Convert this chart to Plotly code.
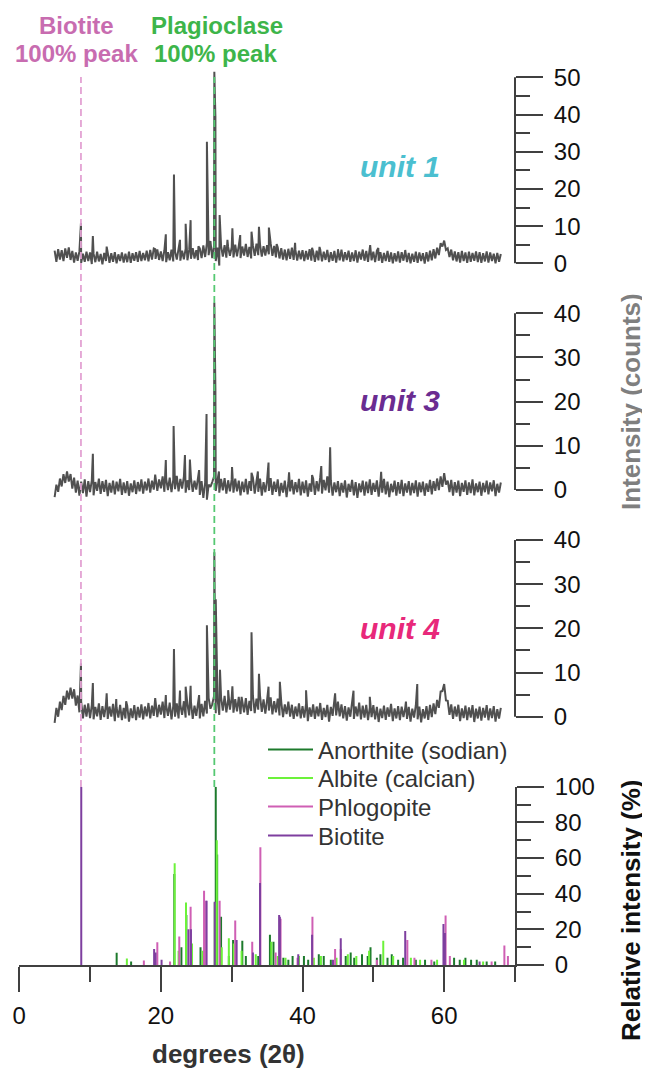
import plotly.graph_objects as go

WIN_W, WIN_H = 650, 1071
OFF = 8                      # page body margin of the html page
W, H = WIN_W - OFF, WIN_H - OFF
FONT = "Liberation Sans, Arial, sans-serif"

# ---------------- data ----------------
scan_start = 5.0   # degrees 2theta
scan_step = 0.25

unit1_base = [
    3.4, 0.4, 3.8, 1.0, 3.5, 0.6, 4.0, 1.5, 4.3, 0.9, 3.3, 0.2, 2.9, 0.7, 3.2, 0.1, 2.6, 0.4, 3.1, 0.6,
    2.9, -0.2, 2.6, 0.3, 3.1, 0.5, 2.5, -0.3, 2.8, 0.6, 3.0, 0.1, 2.7, 0.4, 3.0, 0.0, 2.4, 0.6, 2.9, 0.2,
    2.6, 0.3, 3.1, 0.1, 2.7, 0.7, 3.0, 0.4, 3.3, 0.6, 2.8, 0.8, 3.4, 0.5, 3.6, 1.0, 4.0, 1.2, 3.7, 0.9,
    3.2, 0.6, 3.5, 0.3, 3.0, 0.8, 3.7, 0.5, 3.2, 1.0, 3.8, 0.7, 3.4, 1.1, 3.9, 0.8, 3.6, 1.2, 4.1, 1.3,
    3.5, 0.9, 4.0, 1.4, 4.8, 1.7, 5.4, 2.2, 6.0, 1.4, 4.6, 0.6, 4.2, -0.6, 4.7, 1.8, 4.9, 1.5, 4.4, 2.0,
    4.3, 1.6, 5.0, 1.9, 4.7, 1.4, 4.5, 2.1, 5.2, 1.7, 4.4, 1.3, 4.8, 2.0, 5.3, 2.2, 5.1, 1.8, 4.6, 2.1,
    4.9, 2.4, 5.4, 2.0, 4.7, 1.6, 4.3, 1.3, 4.1, 1.0, 3.7, 0.8, 3.9, 1.2, 4.2, 0.9, 3.6, 0.7, 3.4, 1.1,
    3.5, 0.6, 3.3, 1.0, 3.8, 0.7, 3.2, 0.4, 3.4, 0.8, 3.7, 0.5, 3.1, 0.9, 3.6, 0.3, 3.0, 0.7, 3.3, 0.2,
    3.2, 0.8, 3.7, 0.5, 3.0, 0.9, 3.4, 0.4, 2.9, 0.6, 3.5, 0.2, 3.1, 1.0, 3.7, 0.7, 3.3, 0.4, 3.6, 0.8,
    3.1, 0.3, 3.4, 0.7, 3.0, 0.1, 2.8, 0.6, 3.3, 0.4, 2.9, 0.0, 2.7, 0.5, 3.2, 0.2, 3.0, 0.7, 3.4, 0.3,
    2.8, 0.0, 2.6, 0.4, 3.1, 0.1, 2.9, 0.6, 2.7, -0.1, 3.0, 0.5, 3.4, 0.8, 3.8, 1.3, 4.2, 2.2, 5.4, 4.5,
    6.1, 3.6, 4.0, 1.7, 3.7, 0.8, 3.2, 0.5, 3.0, 0.2, 3.3, 0.6, 2.9, 0.1, 3.1, 0.4, 2.8, 0.7, 3.2, 0.3,
    3.0, 0.1, 2.7, 0.5, 3.2, 0.2, 2.9, 0.6, 2.6, 0.0, 2.8, 0.4, 2.5,
]
unit1_peak_pos = [8.72, 10.4, 12.35, 19.2, 20.7, 21.85, 22.7, 23.5, 24.2, 25.3, 26.5, 27.55, 27.7,
                  28.3, 29.4, 30.1, 31.2, 32.8, 33.85, 35.25, 36.35, 38.95, 41.35, 42.4, 45.0,
                  49.55, 50.7, 54.5]
unit1_peak_int = [10.8, 7.3, 4.5, 3.8, 7.8, 23.9, 6.3, 10.6, 11.6, 4.6, 32.7, 51.5, 39.4,
                  13.0, 6.3, 9.4, 7.6, 8.5, 9.8, 9.6, 5.2, 5.5, 4.2, 4.4, 3.8,
                  4.9, 4.1, 3.6]

unit3_base = [
    -1.6, 1.2, -0.4, 2.6, 0.8, 3.6, 1.6, 4.2, 1.9, 3.6, 0.3, 2.8, -0.6, 2.1, -1.3, 1.9, -0.7, 2.4, -1.5, 2.0,
    -0.5, 2.2, -1.2, 1.8, -0.2, 2.6, -0.9, 2.0, -0.4, 2.3, -1.4, 1.6, -0.6, 2.1, -1.0, 1.9, -0.3, 2.5, -1.1, 1.7,
    -0.7, 2.0, -1.3, 1.5, -0.5, 2.2, -0.9, 1.8, -0.3, 2.4, -0.8, 1.9, -0.1, 2.6, -0.6, 2.1, 0.1, 3.0, -0.2, 2.4,
    0.4, 3.1, -0.4, 2.5, 0.0, 2.8, -0.5, 2.3, 0.2, 3.2, -0.3, 2.5, 0.3, 3.0, -0.6, 2.2, 0.0, 2.7, -0.4, 2.1,
    0.1, 2.8, -1.1, 2.0, -1.8, 1.6, -2.2, 1.2, 0.7, 1.8, 3.0, -0.2, 2.9, -0.6, 2.5, -0.1, 2.7, -0.8, 2.2, -0.3,
    2.4, -0.6, 2.6, -0.3, 2.1, -1.2, 1.9, -0.5, 2.5, -1.0, 2.0, -0.2, 2.8, -0.8, 2.3, -0.4, 2.6, -1.3, 1.8, -0.5,
    2.2, -0.2, 2.7, -1.1, 1.9, -0.4, 2.4, -1.4, 1.6, -0.6, 2.1, -1.6, 1.7, -0.3, 2.3, -1.0, 1.8, -0.5, 2.5, -1.2,
    1.9, -0.7, 2.2, -1.5, 1.5, -0.4, 2.6, -1.1, 2.0, -0.3, 2.9, -0.8, 2.3, -0.1, 3.1, -0.6, 2.1, -1.3, 1.7, -0.5,
    2.0, -1.4, 1.6, -0.6, 2.2, -1.7, 1.4, -0.4, 2.3, -1.2, 1.8, -1.8, 1.5, -0.5, 2.1, -1.3, 1.9, -0.7, 2.4, -1.1,
    1.6, -0.4, 2.2, -1.5, 1.7, -0.6, 2.5, -1.0, 1.9, -1.6, 1.4, -0.5, 2.1, -1.3, 1.8, -0.8, 2.3, -1.4, 1.5, -0.6,
    2.0, -1.2, 1.6, -0.7, 2.2, -1.5, 1.7, -0.5, 1.9, -1.3, 1.5, -0.4, 2.3, -1.0, 2.0, -0.2, 2.6, 0.0, 3.1, 0.7,
    3.8, 1.2, 2.1, -0.5, 2.3, -1.3, 1.8, -0.6, 2.1, -1.4, 1.6, -0.4, 2.2, -1.1, 1.7, -0.7, 2.4, -1.2, 1.5, -0.5,
    1.9, -1.3, 1.6, -0.5, 2.1, -1.0, 1.7, -0.3, 2.2, -1.4, 1.4, -0.6, 1.7,
]
unit3_peak_pos = [10.4, 19.2, 20.7, 21.8, 23.4, 24.1, 25.4, 26.45, 27.55, 27.7, 28.2, 30.05, 32.8,
                  33.7, 35.2, 38.1, 41.35, 42.65, 43.9, 51.1]
unit3_peak_int = [8.2, 3.5, 6.8, 14.5, 7.9, 6.9, 4.5, 17.2, 42.4, 23.0, 4.2, 5.2, 3.9,
                  4.2, 6.2, 4.0, 3.4, 5.4, 9.7, 4.1]

unit4_base = [
    -1.4, 2.0, 0.0, 3.4, 1.5, 4.7, 2.7, 5.9, 3.9, 6.6, 4.1, 6.2, 2.5, 4.8, 1.0, 3.4, -0.4, 2.7, 0.0, 3.0,
    -0.3, 2.6, -0.6, 2.2, 0.1, 3.0, -0.7, 2.4, -0.1, 2.8, -0.5, 2.3, 0.0, 2.9, -1.0, 2.1, -0.2, 2.7, -0.8, 2.0,
    -0.4, 2.5, -1.1, 1.9, -0.3, 2.6, -0.8, 2.2, -0.2, 2.8, -0.6, 2.3, 0.1, 3.1, -0.4, 2.5, 0.2, 3.3, -0.1, 2.7,
    0.5, 3.4, -0.3, 2.6, 0.2, 3.2, -0.6, 2.4, 0.0, 3.0, -0.4, 2.7, 0.4, 3.5, -0.2, 2.8, 0.3, 3.3, -0.5, 2.5,
    0.2, 3.4, -0.4, 2.9, 0.1, 3.6, 0.7, 4.2, 1.8, 2.8, 4.6, 0.8, 4.0, 0.4, 4.4, 1.4, 4.7, 1.0, 3.9, 1.6,
    4.3, 0.9, 4.0, 1.2, 4.5, 0.6, 3.7, 1.0, 4.2, 0.4, 3.6, 1.3, 4.7, 0.8, 4.1, 1.6, 4.8, 1.1, 3.9, 0.7,
    3.8, 1.4, 4.4, 0.5, 3.5, 1.0, 4.1, 0.3, 3.3, -0.1, 2.8, 0.6, 3.4, 0.0, 2.7, -0.5, 2.3, 0.1, 3.0, -0.4,
    2.4, -0.2, 2.9, -1.0, 2.1, 0.0, 2.8, -0.5, 2.3, 0.1, 3.1, -0.7, 2.0, -0.1, 2.7, -1.1, 2.2, 0.2, 3.2, 0.3,
    3.4, 0.1, 2.8, -0.4, 2.4, -0.9, 2.1, 0.0, 3.0, -0.5, 2.3, 0.1, 3.2, -0.6, 2.5, -0.2, 2.7, -0.8, 2.1, -0.1,
    2.6, -0.6, 2.2, -1.2, 1.8, -0.3, 2.5, -0.7, 2.1, 0.0, 2.9, -1.0, 1.9, -0.4, 2.4, -0.8, 2.3, -0.1, 2.0, -0.5,
    2.2, -1.1, 1.8, -0.2, 2.6, -0.6, 2.3, -1.3, 1.7, -0.4, 2.4, -0.7, 2.7, -0.1, 3.0, 0.6, 3.8, 2.0, 5.7, 5.8,
    7.4, 3.7, 3.6, 0.4, 2.8, -0.5, 2.3, 0.0, 2.7, -1.0, 1.9, -0.3, 2.5, -0.8, 2.1, -0.2, 2.6, -1.2, 1.8, -0.4,
    2.3, -0.9, 2.0, -0.2, 2.6, -0.8, 1.9, -0.3, 2.4, -1.1, 1.7, -0.4, 2.0,
]
unit4_peak_pos = [8.72, 10.4, 12.35, 13.7, 15.1, 19.2, 20.7, 21.85, 22.7, 23.5, 24.2, 25.4, 26.5,
                  27.55, 27.75, 28.35, 29.5, 30.1, 31.4, 32.8, 33.85, 35.2, 36.8, 40.5, 44.6,
                  47.2, 49.5, 54.6, 56.2]
unit4_peak_int = [12.1, 7.6, 5.3, 4.0, 3.5, 4.2, 4.9, 15.3, 5.9, 6.8, 7.0, 4.9, 20.7,
                  37.2, 26.6, 10.6, 6.0, 6.9, 4.5, 19.1, 9.7, 6.8, 7.9, 6.0, 5.3,
                  5.9, 4.5, 3.4, 7.4]

# reference patterns: (2theta, relative intensity %)
anorthite_pos = [13.76, 15.8, 21.9, 22.9, 23.6, 24.3, 25.6, 26.0, 27.75, 27.95, 28.5, 29.6, 30.2,
                 31.5, 32.0, 33.75, 35.4, 35.9, 37.3, 38.0, 38.6, 40.2, 40.8, 42.3, 43.0, 44.0,
                 46.1, 46.8, 47.3, 48.4, 49.2, 49.6, 50.5, 51.0, 52.0, 52.6, 53.5, 54.2, 56.0,
                 57.3, 58.6, 61.4, 62.2, 63.0, 63.8, 64.6, 66.0, 67.2]
anorthite_int = [6.9, 2, 51, 10, 28, 8, 10, 5, 100, 62, 27, 5, 14,
                 13.6, 5, 5, 17, 13, 4, 3, 5, 5, 3, 6, 5, 3,
                 5, 7, 4, 6, 5, 10, 4, 6, 4, 6, 3, 4, 3,
                 3, 2, 4, 3, 4, 3, 3, 2, 2]
albite_pos = [15.2, 21.95, 22.5, 23.55, 24.4, 25.9, 27.6, 27.9, 28.6, 29.6, 30.3, 31.4, 33.4,
              35.6, 36.5, 37.6, 39.5, 41.6, 42.6, 44.8, 46.4, 47.6, 49.4, 51.4, 52.8, 55.3,
              56.6, 59.0, 62.8, 65.5]
albite_int = [3.7, 57, 8, 35, 12, 8, 35, 70, 10, 15, 12, 8, 6,
              13, 5, 4, 5, 4, 5, 4, 6, 5, 8, 13.6, 5, 4,
              3, 3, 3, 2]
phlogopite_pos = [17.6, 19.5, 21.3, 22.6, 24.2, 26.1, 26.4, 28.3, 30.5, 32.9, 34.05, 36.2, 36.9,
                  39.3, 41.4, 44.6, 45.4, 50.5, 54.8, 55.8, 58.2, 60.2, 60.8, 66.7, 68.5, 69.0]
phlogopite_int = [2.5, 12.7, 2, 16, 32.7, 41.7, 36, 36, 25, 13, 66, 7, 26,
                  4, 27, 9, 9, 3, 14, 4, 3, 27.7, 5, 2, 11, 5]
biotite_pos = [8.76, 19.05, 19.25, 20.1, 23.9, 24.25, 26.45, 27.6, 30.7, 33.0, 34.0, 36.7, 36.8,
               39.4, 41.35, 44.3, 45.4, 54.5, 59.9, 60.1, 65.0]
biotite_int = [100, 9, 7, 3, 20, 20, 36, 35.5, 14, 7, 46, 28, 27,
               6, 17, 3, 15, 19, 23, 18, 2]

biotite_peak = 8.72
plagioclase_peak = 27.55

x_ticks = [0, 20, 40, 60]

# ---------------- helpers ----------------
def pattern(base, ppos, pint):
    xs = [scan_start + i * scan_step for i in range(len(base))]
    pts = sorted(list(zip(xs, base)) + list(zip(ppos, pint)))
    return [p[0] for p in pts], [p[1] for p in pts]


def sticks(pos, inten):
    xs, ys = [], []
    for p, v in zip(pos, inten):
        xs += [p, p, None]
        ys += [0, v, None]
    return xs, ys


def py(px):  # window pixel row -> paper y
    return 1 - (px - OFF) / H


def px_x(px):  # window pixel column -> paper x
    return (px - OFF) / W


# panel geometry in window pixels: (row of zero, pixels per unit, range lo, range hi, top tick)
panels = [
    (263.3, 3.72, -3, 52.5, 50),
    (490.0, 4.4175, -3, 43.5, 40),
    (716.7, 4.4175, -3, 40.5, 40),
    (965.0, 1.783, 0, 100, 100),
]


def domain(p):
    zero, ppu, lo, hi, _ = p
    return [py(zero - lo * ppu), py(zero - hi * ppu)]


X0_PX, X1_PX = 19.2, 515.0
AX_COL = "#404040"
TRACE_COL = "#505050"

fig = go.Figure()

for i, (base, pp, pi) in enumerate([(unit1_base, unit1_peak_pos, unit1_peak_int),
                                     (unit3_base, unit3_peak_pos, unit3_peak_int),
                                     (unit4_base, unit4_peak_pos, unit4_peak_int)]):
    xs, ys = pattern(base, pp, pi)
    fig.add_trace(go.Scatter(x=xs, y=ys, mode="lines", xaxis="x",
                             yaxis="y" if i == 0 else f"y{i+1}",
                             line=dict(color=TRACE_COL, width=2.0), showlegend=False,
                             hoverinfo="skip"))

ref = [
    ("Anorthite (sodian)", anorthite_pos, anorthite_int, "#1d7a2c", "legend"),
    ("Albite (calcian)", albite_pos, albite_int, "#6cf23a", "legend2"),
    ("Phlogopite", phlogopite_pos, phlogopite_int, "#cf5fb4", "legend3"),
    ("Biotite", biotite_pos, biotite_int, "#7e3f9f", "legend4"),
]
for name, pos, inten, col, lg in ref:
    xs, ys = sticks(pos, inten)
    fig.add_trace(go.Scatter(x=xs, y=ys, mode="lines", name=name, xaxis="x", yaxis="y4",
                             line=dict(color=col, width=2.0), legend=lg, hoverinfo="skip"))

layout = dict(
    template="none",
    width=W, height=H, margin=dict(l=0, r=0, t=0, b=0, pad=0, autoexpand=False),
    paper_bgcolor="white", plot_bgcolor="rgba(0,0,0,0)",
    font=dict(family=FONT, size=24, color="#111111"),
    xaxis=dict(domain=[px_x(X0_PX), px_x(X1_PX)], range=[0, 70], anchor="y4", automargin=False,
               showline=True, linecolor=AX_COL, linewidth=2, showgrid=False, zeroline=False,
               ticks="outside", tickvals=x_ticks, ticklen=25, tickwidth=2, tickcolor=AX_COL,
               tickfont=dict(size=24, color="#111111"), ticklabelstandoff=3,
               minor=dict(ticks="outside", tick0=0, dtick=10, ticklen=15, tickwidth=2,
                          tickcolor=AX_COL, showgrid=False)),
)

shapes = []
for i, p in enumerate(panels):
    key = "yaxis" if i == 0 else f"yaxis{i+1}"
    major = 20 if i == 3 else 10
    layout[key] = dict(domain=domain(p), range=[p[2], p[3]], anchor="x", side="right",
                       automargin=False,
                       showline=(i == 3), linecolor=AX_COL, linewidth=2,
                       showgrid=False, zeroline=False, ticks="outside", tick0=0, dtick=major,
                       ticklen=27, tickwidth=2, tickcolor=AX_COL,
                       tickfont=dict(size=24, color="#111111"), ticklabelstandoff=6,
                       minor=dict(ticks="outside", tick0=0, dtick=major / 2, ticklen=14,
                                  tickwidth=2, tickcolor=AX_COL, showgrid=False))
    if i < 3:
        zero, ppu, lo, hi, top = p
        shapes.append(dict(type="line", xref="paper", yref="paper",
                           x0=px_x(X1_PX), x1=px_x(X1_PX),
                           y0=py(zero), y1=py(zero - top * ppu),
                           line=dict(color=AX_COL, width=2)))

# dashed guide lines
shapes.append(dict(type="line", xref="x", yref="paper", x0=biotite_peak, x1=biotite_peak,
                   y0=py(787), y1=py(77), line=dict(color="#e3a2d3", width=1.8, dash="7px,4px")))
shapes.append(dict(type="line", xref="x", yref="paper", x0=plagioclase_peak, x1=plagioclase_peak,
                   y0=py(787), y1=py(77), line=dict(color="#55c872", width=1.8, dash="7px,4px")))
layout["shapes"] = shapes

# legends
leg_rows = [750, 778.5, 807, 836]
for lg, row in zip(["legend", "legend2", "legend3", "legend4"], leg_rows):
    layout[lg] = dict(x=px_x(263), y=py(row), xanchor="left", yanchor="middle",
                      bgcolor="rgba(0,0,0,0)", borderwidth=0, itemwidth=45,
                      font=dict(family=FONT, size=24, color="#333333"))


def ann(text, xpx, ypx, size, color, bold=False, italic=False, angle=0):
    return dict(text=text, x=px_x(xpx), y=py(ypx), xref="paper", yref="paper",
                xanchor="center", yanchor="middle", showarrow=False, textangle=angle,
                font=dict(family=FONT, size=size, color=color,
                          weight="bold" if bold else "normal",
                          style="italic" if italic else "normal"))


layout["annotations"] = [
    ann("Biotite", 76, 26, 24, "#c86cb0", bold=True),
    ann("100% peak", 76, 53, 24, "#c86cb0", bold=True),
    ann("Plagioclase", 217, 26, 24, "#3db54a", bold=True),
    ann("100% peak", 215, 53, 24, "#3db54a", bold=True),
    ann("unit 1", 400, 167, 30, "#4bbfd0", bold=True, italic=True),
    ann("unit 3", 400, 400, 30, "#6a2c91", bold=True, italic=True),
    ann("unit 4", 400, 628, 30, "#e8287a", bold=True, italic=True),
    ann("Intensity (counts)", 631, 402, 26, "#7f7f7f", bold=True, angle=-90),
    ann("Relative intensity (%)", 631, 910, 26, "#111111", bold=True, angle=-90),
    ann("degrees (2θ)", 228, 1054, 26, "#333333", bold=True),
]

fig.update_layout(**layout)
fig.write_html("out.html")
